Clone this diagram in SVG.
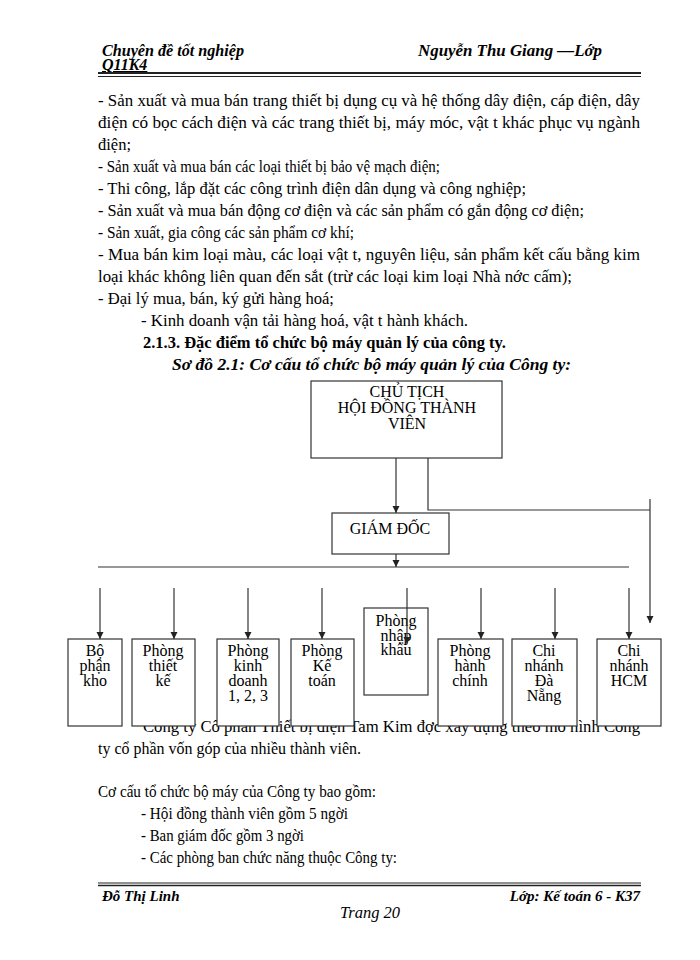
<svg xmlns="http://www.w3.org/2000/svg" width="700" height="960" viewBox="0 0 700 960">
<style>
  .t { font-family: "Liberation Serif", "Times New Roman", serif; font-size: 16.5px; fill: #000; }
  .hd { font-family: "Liberation Serif", "Times New Roman", serif; font-size: 16px; font-style: italic; font-weight: bold; fill: #000; }
  .ft { font-family: "Liberation Serif", "Times New Roman", serif; font-size: 15px; font-style: italic; font-weight: bold; fill: #000; }
  .b { font-weight: bold; }
  .bi { font-weight: bold; font-style: italic; }
  .box { fill: #fff; stroke: #333; stroke-width: 1.2; }
  .bt { font-family: "Liberation Serif", "Times New Roman", serif; font-size: 16px; fill: #000; text-anchor: middle; }
  .ln { fill: none; stroke: #333; stroke-width: 1.2; }
</style>
<defs>
  <marker id="ah" markerWidth="8" markerHeight="8" refX="7" refY="4" orient="auto" markerUnits="userSpaceOnUse">
    <path d="M0,0.5 L7,4 L0,7.5 Z" fill="#222"/>
  </marker>
</defs>
<rect width="700" height="960" fill="#fff"/>

<!-- header -->
<g id="header">
  <text class="hd" x="102" y="56" textLength="142" lengthAdjust="spacingAndGlyphs">Chuyên đề tốt nghiệp</text>
  <text class="hd" x="418" y="56" textLength="184" lengthAdjust="spacingAndGlyphs">Nguyễn Thu Giang —Lớp</text>
  <text class="hd" x="102" y="70" text-decoration="underline">Q11K4</text>
  <line x1="98" y1="73" x2="641" y2="73" stroke="#222" stroke-width="2"/>
  <line x1="98" y1="76.5" x2="641" y2="76.5" stroke="#222" stroke-width="1"/>
</g>

<!-- body text top -->
<g id="body-top">
  <text class="t" x="98" y="106" textLength="542" lengthAdjust="spacingAndGlyphs">- Sản xuất và mua bán trang thiết bị dụng cụ và hệ thống dây điện, cáp điện,  dây</text>
  <text class="t" x="98" y="128" textLength="542" lengthAdjust="spacingAndGlyphs">điện có bọc cách điện và các trang thiết bị, máy móc, vật t   khác phục vụ ngành</text>
  <text class="t" x="98" y="150">điện;</text>
  <text class="t" x="98" y="172" textLength="342" lengthAdjust="spacingAndGlyphs">- Sản xuất và mua bán các loại thiết bị bảo vệ mạch điện;</text>
  <text class="t" x="98" y="194" textLength="428" lengthAdjust="spacingAndGlyphs">- Thi công, lắp đặt các công trình điện dân dụng và công nghiệp;</text>
  <text class="t" x="98" y="216" textLength="486" lengthAdjust="spacingAndGlyphs">- Sản xuất và mua bán động cơ điện và các sản phẩm có gắn động cơ điện;</text>
  <text class="t" x="98" y="238" textLength="256" lengthAdjust="spacingAndGlyphs">- Sản xuất, gia công các sản phẩm cơ khí;</text>
  <text class="t" x="98" y="260" textLength="542" lengthAdjust="spacingAndGlyphs">- Mua bán kim loại màu, các loại vật t,   nguyên liệu, sản phẩm kết cấu bằng kim</text>
  <text class="t" x="98" y="282" textLength="474" lengthAdjust="spacingAndGlyphs">loại khác không liên quan đến sắt (trừ các loại kim loại Nhà nớc   cấm);</text>
  <text class="t" x="98" y="304" textLength="236" lengthAdjust="spacingAndGlyphs">- Đại lý mua, bán, ký gửi hàng hoá;</text>
  <text class="t" x="141" y="326" textLength="327" lengthAdjust="spacingAndGlyphs">- Kinh doanh vận tải hàng hoá, vật t   hành khách.</text>
  <text class="t b" x="143" y="348" textLength="363" lengthAdjust="spacingAndGlyphs">2.1.3. Đặc điểm tổ chức bộ máy quản lý của công ty.</text>
  <text class="t bi" x="172" y="370" textLength="399" lengthAdjust="spacingAndGlyphs">Sơ đồ 2.1:  Cơ cấu tổ chức bộ máy quản lý của Công ty:</text>
</g>

<!-- text partly hidden behind boxes -->
<text class="t" x="143" y="732" textLength="497" lengthAdjust="spacingAndGlyphs">Công ty Cổ phần Thiết bị điện Tam Kim đợc   xây dựng theo mô hình Công</text>

<!-- connectors -->
<g id="connectors">
  <line class="ln" x1="396" y1="448" x2="396" y2="513" marker-end="url(#ah)"/>
  <polyline class="ln" points="428,448 428,510 650,510"/>
  <line class="ln" x1="650" y1="499" x2="650" y2="623" marker-end="url(#ah)"/>
  <line class="ln" x1="396" y1="554" x2="396" y2="567" marker-end="url(#ah)"/>
  <line class="ln" x1="98" y1="567" x2="629" y2="567"/>
  <line class="ln" x1="100" y1="588" x2="100" y2="639" marker-end="url(#ah)"/>
  <line class="ln" x1="174" y1="588" x2="174" y2="639" marker-end="url(#ah)"/>
  <line class="ln" x1="248" y1="588" x2="248" y2="639" marker-end="url(#ah)"/>
  <line class="ln" x1="322" y1="588" x2="322" y2="639" marker-end="url(#ah)"/>
  <line class="ln" x1="481" y1="588" x2="481" y2="639" marker-end="url(#ah)"/>
  <line class="ln" x1="555" y1="588" x2="555" y2="639" marker-end="url(#ah)"/>
  <line class="ln" x1="629" y1="588" x2="629" y2="639" marker-end="url(#ah)"/>
</g>

<!-- nodes -->
<g id="chu-tich">
  <rect class="box" x="311" y="381" width="191" height="77"/>
  <text class="bt" x="407" y="397" font-size="15">CHỦ TỊCH</text>
  <text class="bt" x="407" y="413" font-size="15">HỘI ĐỒNG THÀNH</text>
  <text class="bt" x="407" y="429" font-size="15">VIÊN</text>
</g>
<g id="giam-doc">
  <rect class="box" x="332" y="513" width="117" height="41"/>
  <text class="bt" x="390" y="534" font-size="15">GIÁM ĐỐC</text>
</g>
<g id="bo-phan-kho">
  <rect class="box" x="68" y="639" width="54" height="87"/>
  <text class="bt" x="95" y="656">Bộ</text>
  <text class="bt" x="95" y="671">phận</text>
  <text class="bt" x="95" y="686">kho</text>
</g>
<g id="phong-thiet-ke">
  <rect class="box" x="132" y="639" width="63" height="87"/>
  <text class="bt" x="163" y="656">Phòng</text>
  <text class="bt" x="163" y="671">thiết</text>
  <text class="bt" x="163" y="686">kế</text>
</g>
<g id="phong-kinh-doanh">
  <rect class="box" x="217" y="639" width="62" height="87"/>
  <text class="bt" x="248" y="656">Phòng</text>
  <text class="bt" x="248" y="671">kinh</text>
  <text class="bt" x="248" y="686">doanh</text>
  <text class="bt" x="248" y="701">1, 2, 3</text>
</g>
<g id="phong-ke-toan">
  <rect class="box" x="291" y="639" width="63" height="87"/>
  <text class="bt" x="322" y="656">Phòng</text>
  <text class="bt" x="322" y="671">Kế</text>
  <text class="bt" x="322" y="686">toán</text>
</g>
<g id="phong-nhap-khau">
  <rect class="box" x="364" y="608" width="64" height="87"/>
  <text class="bt" x="396" y="626">Phòng</text>
  <text class="bt" x="396" y="641">nhập</text>
  <text class="bt" x="396" y="655">khẩu</text>
</g>
<line class="ln" x1="407" y1="588" x2="407" y2="644" marker-end="url(#ah)"/>
<g id="phong-hanh-chinh">
  <rect class="box" x="438" y="639" width="65" height="87"/>
  <text class="bt" x="470" y="656">Phòng</text>
  <text class="bt" x="470" y="671">hành</text>
  <text class="bt" x="470" y="686">chính</text>
</g>
<g id="chi-nhanh-da-nang">
  <rect class="box" x="512" y="639" width="65" height="87"/>
  <text class="bt" x="544" y="656">Chi</text>
  <text class="bt" x="544" y="671">nhánh</text>
  <text class="bt" x="544" y="686">Đà</text>
  <text class="bt" x="544" y="701">Nẵng</text>
</g>
<g id="chi-nhanh-hcm">
  <rect class="box" x="597" y="639" width="64" height="87"/>
  <text class="bt" x="629" y="656">Chi</text>
  <text class="bt" x="629" y="671">nhánh</text>
  <text class="bt" x="629" y="686">HCM</text>
</g>

<!-- body text bottom -->
<g id="body-bottom">
  <text class="t" x="98" y="754" textLength="263" lengthAdjust="spacingAndGlyphs">ty cổ phần vốn góp của nhiều thành viên.</text>
  <text class="t" x="98" y="797" textLength="278" lengthAdjust="spacingAndGlyphs">Cơ cấu tổ chức bộ máy của Công ty bao gồm:</text>
  <text class="t" x="141" y="819" textLength="207" lengthAdjust="spacingAndGlyphs">- Hội đồng thành viên gồm 5 ngời</text>
  <text class="t" x="141" y="841" textLength="163" lengthAdjust="spacingAndGlyphs">- Ban giám đốc gồm 3 ngời</text>
  <text class="t" x="141" y="863" textLength="256" lengthAdjust="spacingAndGlyphs">- Các phòng ban chức năng thuộc Công ty:</text>
</g>

<!-- footer -->
<g id="footer">
  <line x1="98" y1="883" x2="641" y2="883" stroke="#222" stroke-width="1"/>
  <line x1="98" y1="885.5" x2="641" y2="885.5" stroke="#222" stroke-width="1.5"/>
  <text class="ft" x="102" y="901">Đỗ Thị Linh</text>
  <text class="ft" x="640" y="901" text-anchor="end">Lớp: Kế toán 6 - K37</text>
  <text class="t" x="370" y="918" font-style="italic" font-size="14" text-anchor="middle">Trang 20</text>
</g>
</svg>
